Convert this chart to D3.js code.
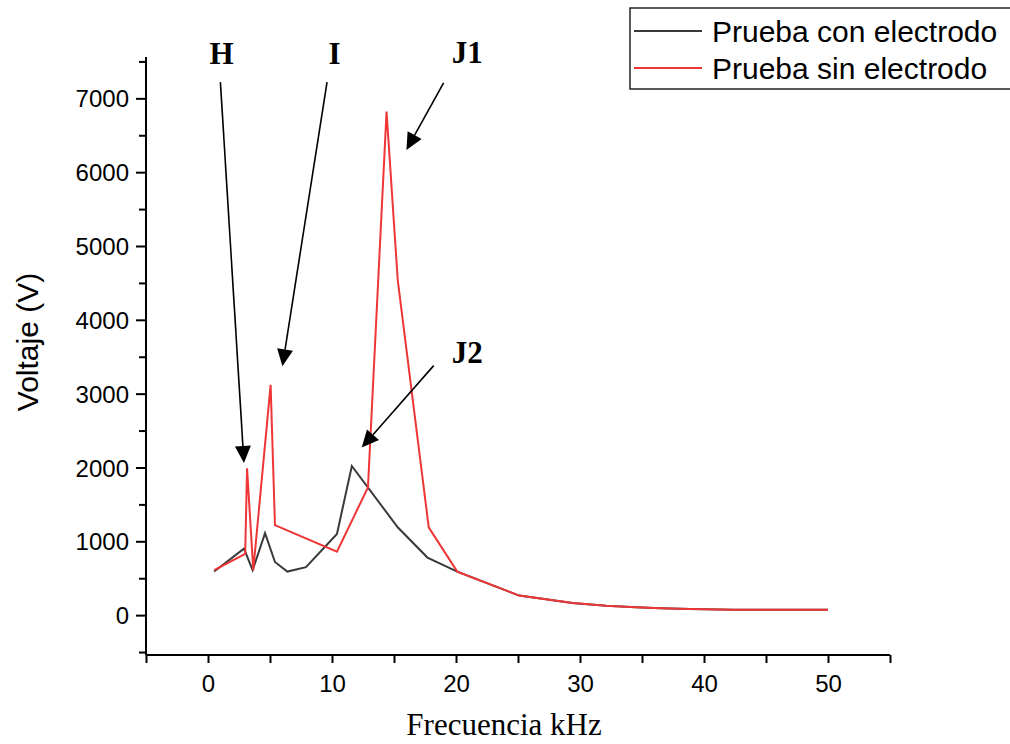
<!DOCTYPE html>
<html>
<head>
<meta charset="utf-8">
<script src="https://cdn.jsdelivr.net/npm/d3@7"></script>
<style>
  body { margin: 0; background: #fff; }
  svg { display: block; }
</style>
</head>
<body>
<script>
// frequency (kHz) / voltage (V)
let conFreq = [0.5, 2.9, 3.6, 4.6, 5.4, 6.4, 7.9, 10.4, 11.6, 15.3, 17.7, 20.1, 25.1, 29.4, 32.1, 34.5, 36.5, 38.9, 42.4, 50];
let conVolt = [590, 900, 610, 1110, 720, 590, 650, 1100, 2020, 1190, 780, 590, 265, 165, 128, 106, 92, 82, 74, 72];

let sinFreq = [0.5, 3.0, 3.15, 3.65, 5.05, 5.4, 10.4, 12.9, 14.4, 15.3, 17.8, 20.1, 25.1, 29.4, 32.1, 34.5, 36.5, 38.9, 42.4, 50];
let sinVolt = [610, 830, 1990, 610, 3120, 1220, 860, 1730, 6820, 4540, 1190, 590, 265, 165, 128, 106, 92, 82, 74, 72];

let seriesNames = ["Prueba con electrodo", "Prueba sin electrodo"];
let seriesColors = ["#3a3a3a", "#ef3636"];

let xTicks = [0, 10, 20, 30, 40, 50];
let yTicks = [0, 1000, 2000, 3000, 4000, 5000, 6000, 7000];

// annotation labels with arrows (data coords: label, arrow start, arrow tip)
let notes = [
    { text: "H",  lx: 1.1,  ly: 7470, x0: 1.0,  y0: 7220, x1: 2.9,  y1: 2060 },
    { text: "I",  lx: 10.2, ly: 7470, x0: 9.6,  y0: 7220, x1: 6.0,  y1: 3370 },
    { text: "J1", lx: 20.9, ly: 7480, x0: 19.0, y0: 7210, x1: 16.0, y1: 6300 },
    { text: "J2", lx: 20.9, ly: 3420, x0: 18.2, y0: 3380, x1: 12.4, y1: 2270 }
];

let w = 1010,
    h = 744;

let svg = d3.select("body")
    .append("svg")
    .attr("width", w)
    .attr("height", h);

let x = d3.scaleLinear()
    .domain([-5, 55])
    .range([146, 890]);

let y = d3.scaleLinear()
    .domain([-540, 7560])
    .range([655, 57]);

// x axis
let xAxis = d3.axisBottom(x)
    .tickValues(d3.range(-5, 56, 5))
    .tickSize(8)
    .tickFormat(function(d) {
        return xTicks.indexOf(d) >= 0 ? d : "";
    });

let gx = svg.append("g")
    .attr("transform", "translate(0," + y.range()[0] + ")")
    .call(xAxis);
gx.select(".domain").attr("stroke-width", 2);
gx.selectAll(".tick line").attr("stroke-width", 2);
gx.selectAll(".tick text")
    .attr("dy", 26)
    .style("font-family", "'Liberation Sans', Arial, sans-serif")
    .style("font-size", "24px")
    .attr("fill", "#000");

// y axis
let yAxis = d3.axisLeft(y)
    .tickValues(d3.range(-500, 7501, 500))
    .tickSize(9)
    .tickFormat(function(d) {
        return yTicks.indexOf(d) >= 0 ? d : "";
    });

let gy = svg.append("g")
    .attr("transform", "translate(" + x.range()[0] + ",0)")
    .call(yAxis);
gy.select(".domain").attr("stroke-width", 2);
gy.selectAll(".tick line")
    .attr("stroke-width", 2)
    .attr("x2", function(d) { return yTicks.indexOf(d) >= 0 ? -10 : -7; });
gy.selectAll(".tick text")
    .attr("x", -17)
    .attr("dy", "0.36em")
    .style("font-family", "'Liberation Sans', Arial, sans-serif")
    .style("font-size", "24px")
    .attr("fill", "#000");
gx.selectAll(".domain").attr("d", "M" + x.range()[0] + ",0H" + x.range()[1]);
gy.selectAll(".domain").attr("d", "M0," + y.range()[1] + "V" + y.range()[0]);

// axis titles
svg.append("text")
    .attr("x", 504)
    .attr("y", 735)
    .attr("text-anchor", "middle")
    .style("font-family", "'Liberation Serif', 'Times New Roman', serif")
    .style("font-size", "31px")
    .text("Frecuencia kHz");

svg.append("text")
    .attr("transform", "translate(38,342) rotate(-90)")
    .attr("text-anchor", "middle")
    .style("font-family", "'Liberation Sans', Arial, sans-serif")
    .style("font-size", "30px")
    .text("Voltaje (V)");

// lines
let line = d3.line()
    .x(function(d) { return x(d[0]); })
    .y(function(d) { return y(d[1]); });

let data = [d3.zip(conFreq, conVolt), d3.zip(sinFreq, sinVolt)];

svg.selectAll(".series")
    .data(data)
    .enter()
    .append("path")
    .attr("class", "series")
    .attr("d", line)
    .attr("fill", "none")
    .attr("stroke", function(d, i) { return seriesColors[i]; })
    .attr("stroke-width", 2)
    .attr("stroke-linejoin", "miter");

// annotations
let headLen = 17,
    headHalf = 8;

notes.forEach(function(n) {
    let sx = x(n.x0), sy = y(n.y0),
        tx = x(n.x1), ty = y(n.y1);
    let dx = tx - sx, dy = ty - sy,
        len = Math.sqrt(dx * dx + dy * dy),
        ux = dx / len, uy = dy / len;
    let bx = tx - ux * headLen, by = ty - uy * headLen;

    svg.append("line")
        .attr("x1", sx).attr("y1", sy)
        .attr("x2", bx).attr("y2", by)
        .attr("stroke", "#000")
        .attr("stroke-width", 1.6);

    svg.append("path")
        .attr("d", "M" + tx + "," + ty +
            "L" + (bx - uy * headHalf) + "," + (by + ux * headHalf) +
            "L" + (bx + uy * headHalf) + "," + (by - ux * headHalf) + "Z")
        .attr("fill", "#000");

    svg.append("text")
        .attr("x", x(n.lx))
        .attr("y", y(n.ly))
        .attr("text-anchor", "middle")
        .style("font-family", "'Liberation Serif', 'Times New Roman', serif")
        .style("font-weight", "bold")
        .style("font-size", "31px")
        .text(n.text);
});

// legend
let legend = svg.append("g");

legend.append("rect")
    .attr("x", 630)
    .attr("y", 8)
    .attr("width", 400)
    .attr("height", 81)
    .attr("fill", "#fff")
    .attr("stroke", "#222")
    .attr("stroke-width", 1.5);

let items = legend.selectAll(".item")
    .data(seriesNames)
    .enter()
    .append("g")
    .attr("class", "item")
    .attr("transform", function(d, i) {
        return "translate(0," + (31 + i * 37) + ")";
    });

items.append("line")
    .attr("x1", 634)
    .attr("x2", 702)
    .attr("stroke", function(d, i) { return seriesColors[i]; })
    .attr("stroke-width", 2);

items.append("text")
    .attr("x", 712)
    .attr("dy", "0.36em")
    .style("font-family", "'Liberation Sans', Arial, sans-serif")
    .style("font-size", "30px")
    .text(function(d) { return d; });
</script>
</body>
</html>
